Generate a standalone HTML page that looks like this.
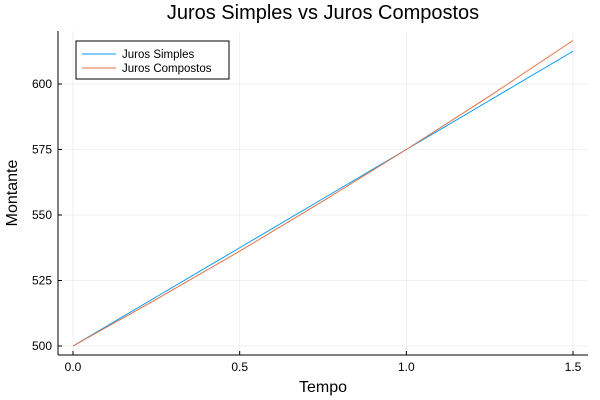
<!DOCTYPE html>
<html>
<head>
<meta charset="utf-8">
<style>
  html, body { margin: 0; padding: 0; background: #fff; }
  svg { display: block; font-family: "Liberation Sans", "DejaVu Sans", sans-serif; }
</style>
</head>
<body>
<svg id="chart" width="600" height="400" xmlns="http://www.w3.org/2000/svg">
  <rect x="0" y="0" width="600" height="400" fill="#ffffff"/>
  <text x="323" y="19" text-anchor="middle" font-size="20" fill="#000">Juros Simples vs Juros Compostos</text>
  <g id="grid"></g>
  <g id="axes"></g>
  <g id="series"></g>
  <text x="323" y="392" text-anchor="middle" font-size="16" fill="#000">Tempo</text>
  <text x="17" y="193" text-anchor="middle" font-size="16" fill="#000" transform="rotate(-90 17 193)">Montante</text>
  <g>
    <rect x="76" y="41" width="153" height="38" fill="#fff" stroke="#000" stroke-width="1"/>
    <line x1="82" y1="54" x2="116" y2="54" stroke="#009af9" stroke-width="1"/>
    <text x="122" y="58" font-size="11.5" fill="#000">Juros Simples</text>
    <line x1="82" y1="68" x2="116" y2="68" stroke="#e26f46" stroke-width="1"/>
    <text x="122" y="72" font-size="11.5" fill="#000">Juros Compostos</text>
  </g>
</svg>
<script>
const tempo = [0, 0.25, 0.5, 0.75, 1.0, 1.25, 1.5];
const jurosSimples = [500, 518.75, 537.5, 556.25, 575, 593.75, 612.5];
const jurosCompostos = [500, 517.8, 536.2, 555.3, 575, 595.4, 616.6];
const xTicks = [0, 0.5, 1.0, 1.5];
const xTickLabels = ["0.0", "0.5", "1.0", "1.5"];
const yTicks = [500, 525, 550, 575, 600];
const yTickLabels = ["500", "525", "550", "575", "600"];

const NS = "http://www.w3.org/2000/svg";
const L = 58, R = 588, T = 31, B = 355;
function xs(v) { return 73 + (v - 0) * (500 / 1.5); }
function ys(v) { return 346 - (v - 500) * (262 / 100); }
function mk(tag, attrs, parent) {
  const e = document.createElementNS(NS, tag);
  for (const k in attrs) e.setAttribute(k, attrs[k]);
  parent.appendChild(e);
  return e;
}
const grid = document.getElementById('grid');
const axes = document.getElementById('axes');
const series = document.getElementById('series');

xTicks.forEach((t, i) => {
  const g = mk('line', {x1: xs(t), x2: xs(t), y1: T, y2: B, stroke: '#000', 'stroke-opacity': 0.1, 'stroke-width': 0.5}, grid);
  
  
  const tk = mk('line', {x1: xs(t), x2: xs(t), y1: B, y2: B - 4, stroke: '#000', 'stroke-width': 1}, axes);
  
  
  const tx = mk('text', {x: xs(t), y: B + 16, 'text-anchor': 'middle', 'font-size': 12, fill: '#000'}, axes);
  tx.textContent = xTickLabels[i];
  
  
});
yTicks.forEach((v, i) => {
  const g = mk('line', {x1: L, x2: R, y1: ys(v), y2: ys(v), stroke: '#000', 'stroke-opacity': 0.1, 'stroke-width': 0.5}, grid);
  
  
  const tk = mk('line', {x1: L, x2: L + 4, y1: ys(v), y2: ys(v), stroke: '#000', 'stroke-width': 1}, axes);
  
  
  const tx = mk('text', {x: L - 6, y: ys(v) + 4, 'text-anchor': 'end', 'font-size': 12, fill: '#000'}, axes);
  tx.textContent = yTickLabels[i];
  
  
});
const xa = mk('line', {x1: L, x2: R, y1: B, y2: B, stroke: '#000', 'stroke-width': 1}, axes);


const ya = mk('line', {x1: L, x2: L, y1: T, y2: B, stroke: '#000', 'stroke-width': 1}, axes);



function pts(arr) { return tempo.map((t, i) => xs(t).toFixed(2) + ',' + ys(arr[i]).toFixed(2)).join(' '); }
const s1 = mk('polyline', {points: pts(jurosSimples), fill: 'none', stroke: '#009af9', 'stroke-width': 1}, series);


const s2 = mk('polyline', {points: pts(jurosCompostos), fill: 'none', stroke: '#e26f46', 'stroke-width': 1}, series);


</script>
</body>
</html>
